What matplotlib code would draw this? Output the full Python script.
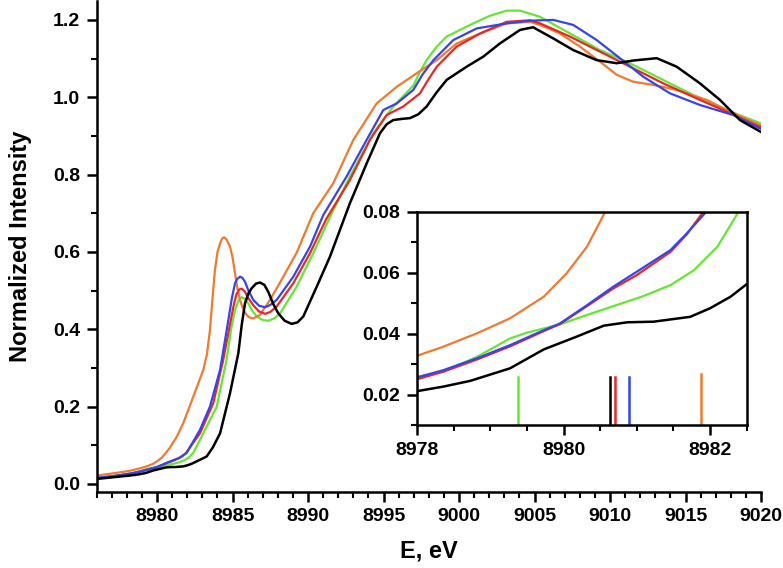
import matplotlib
matplotlib.use("Agg")
import matplotlib.pyplot as plt
from matplotlib.ticker import MultipleLocator

plt.rcParams['font.family'] = ['Liberation Sans', 'DejaVu Sans']
plt.rcParams['font.weight'] = 'bold'

# energy (eV) / normalized intensity
e_orange = [8976.0, 8977.0, 8978.0, 8978.36, 8978.82, 8979.27, 8979.73, 8980.04, 8980.32, 8980.57,
            8980.85, 8981.3, 8981.73, 8982.4, 8983.06, 8983.3, 8983.5, 8983.65, 8983.83, 8984.0,
            8984.17, 8984.3, 8984.43, 8984.6, 8984.83, 8985.0, 8985.16, 8985.3, 8985.49, 8985.7,
            8985.93, 8986.1, 8986.37, 8986.81, 8987.48, 8988.36, 8989.24, 8990.34, 8991.67, 8993.0,
            8994.54, 8995.87, 8997.19, 8998.52, 8999.84, 9001.4, 9003.15, 9004.7, 9005.36, 9006.68,
            9008.0, 9009.33, 9010.44, 9011.54, 9012.86, 9014.41, 9016.4, 9018.16, 9020.0]
i_orange = [0.022, 0.027, 0.0327, 0.0357, 0.0401, 0.045, 0.0521, 0.0597, 0.0685, 0.080,
            0.094, 0.122, 0.157, 0.226, 0.295, 0.335, 0.398, 0.47, 0.553, 0.60,
            0.622, 0.634, 0.638, 0.632, 0.614, 0.585, 0.545, 0.51, 0.476, 0.452,
            0.437, 0.431, 0.428, 0.437, 0.476, 0.536, 0.598, 0.700, 0.778, 0.890,
            0.984, 1.027, 1.062, 1.096, 1.139, 1.165, 1.191, 1.195, 1.187, 1.165,
            1.131, 1.092, 1.058, 1.040, 1.032, 1.019, 0.993, 0.959, 0.927]

e_blue = [8976.0, 8977.0, 8978.0, 8978.36, 8978.82, 8979.27, 8979.73, 8979.95, 8980.32, 8980.68,
          8981.0, 8981.46, 8981.68, 8981.95, 8982.84, 8983.5, 8984.17, 8984.72, 8984.95, 8985.16,
          8985.3, 8985.49, 8985.65, 8985.82, 8986.05, 8986.37, 8986.75, 8987.15, 8987.5, 8987.92,
          8989.02, 8990.13, 8991.0, 8992.55, 8993.88, 8994.98, 8995.87, 8996.97, 8997.6, 8998.3,
          8999.62, 9001.17, 9003.15, 9004.7, 9006.24, 9007.56, 9009.11, 9010.65, 9012.2, 9013.97,
          9015.95, 9018.16, 9020.0]
i_blue = [0.016, 0.020, 0.0256, 0.028, 0.0319, 0.0362, 0.0411, 0.0433, 0.0493, 0.0554,
          0.0603, 0.0674, 0.0728, 0.080, 0.140, 0.200, 0.295, 0.424, 0.48, 0.519,
          0.53, 0.536, 0.533, 0.523, 0.50, 0.476, 0.461, 0.457, 0.463, 0.476,
          0.536, 0.614, 0.695, 0.795, 0.890, 0.967, 0.984, 1.019, 1.06, 1.096,
          1.148, 1.178, 1.191, 1.198, 1.200, 1.187, 1.148, 1.101, 1.053, 1.010,
          0.980, 0.954, 0.918]

e_red = [8976.0, 8977.0, 8978.0, 8978.36, 8978.82, 8979.27, 8979.73, 8979.95, 8980.32, 8980.68,
         8981.0, 8981.46, 8981.68, 8981.91, 8982.84, 8983.72, 8984.38, 8985.05, 8985.25, 8985.44,
         8985.62, 8985.82, 8986.05, 8986.37, 8986.75, 8987.15, 8987.5, 8987.92, 8989.02, 8990.13,
         8991.2, 8992.77, 8994.1, 8995.2, 8996.3, 8997.41, 8997.95, 8998.52, 8999.84, 9001.4,
         9003.15, 9004.7, 9005.36, 9007.34, 9009.33, 9011.32, 9013.52, 9015.73, 9017.94, 9020.0]
i_red = [0.015, 0.019, 0.025, 0.0275, 0.0315, 0.0358, 0.0408, 0.0431, 0.049, 0.0548,
         0.0592, 0.0668, 0.0725, 0.080, 0.131, 0.209, 0.321, 0.458, 0.49, 0.503,
         0.505, 0.497, 0.48, 0.462, 0.446, 0.440, 0.445, 0.459, 0.519, 0.597,
         0.685, 0.786, 0.890, 0.954, 0.976, 1.010, 1.045, 1.079, 1.131, 1.165,
         1.195, 1.199, 1.191, 1.157, 1.118, 1.079, 1.036, 0.997, 0.959, 0.922]

e_green = [8976.0, 8977.0, 8978.0, 8978.36, 8978.82, 8979.27, 8979.5, 8979.95, 8980.32, 8980.68,
           8981.09, 8981.46, 8981.78, 8982.1, 8982.39, 8982.84, 8983.95, 8984.6, 8984.9, 8985.16,
           8985.4, 8985.6, 8985.8, 8986.04, 8986.3, 8986.6, 8987.0, 8987.36, 8987.75, 8988.14,
           8989.24, 8990.35, 8991.45, 8992.77, 8994.32, 8995.64, 8996.3, 8996.97, 8997.4, 8997.85,
           8998.5, 8999.18, 9000.94, 9002.0, 9003.15, 9004.03, 9005.36, 9007.34, 9009.33, 9011.1,
           9013.3, 9015.5, 9017.7, 9020.0]
i_green = [0.016, 0.020, 0.0258, 0.0275, 0.0324, 0.0384, 0.0403, 0.043, 0.0461, 0.049,
           0.0523, 0.0559, 0.0608, 0.0685, 0.080, 0.114, 0.200, 0.321, 0.40, 0.450,
           0.475, 0.483, 0.479, 0.467, 0.448, 0.433, 0.424, 0.422, 0.428, 0.441,
           0.510, 0.597, 0.690, 0.795, 0.907, 0.976, 1.003, 1.030, 1.065, 1.096,
           1.130, 1.157, 1.191, 1.210, 1.224, 1.224, 1.208, 1.165, 1.122, 1.092,
           1.049, 1.006, 0.967, 0.932]

e_black = [8976.0, 8977.0, 8978.0, 8978.36, 8978.73, 8979.27, 8979.73, 8980.18, 8980.55, 8980.87,
           8981.23, 8981.73, 8982.0, 8982.28, 8982.5, 8983.28, 8983.7, 8984.17, 8984.83, 8985.38,
           8985.6, 8985.82, 8986.05, 8986.26, 8986.55, 8986.81, 8987.1, 8987.36, 8987.7, 8988.03,
           8988.45, 8988.91, 8989.3, 8989.68, 8990.57, 8991.45, 8992.77, 8993.88, 8994.76, 8995.2,
           8995.64, 8996.2, 8996.75, 8997.3, 8997.85, 8998.5, 8999.18, 9000.5, 9001.6, 9002.7,
           9004.03, 9004.9, 9006.24, 9007.56, 9009.11, 9010.44, 9011.54, 9013.09, 9014.41, 9015.95,
           9017.28, 9018.6, 9020.0]
i_black = [0.013, 0.017, 0.0211, 0.0226, 0.0245, 0.0286, 0.0348, 0.039, 0.0426, 0.0437,
           0.0439, 0.0455, 0.0483, 0.0521, 0.0562, 0.071, 0.095, 0.131, 0.235, 0.338,
           0.41, 0.467, 0.493, 0.506, 0.518, 0.521, 0.515, 0.497, 0.465, 0.441,
           0.422, 0.414, 0.418, 0.433, 0.510, 0.588, 0.726, 0.829, 0.907, 0.930,
           0.941, 0.944, 0.946, 0.956, 0.976, 1.012, 1.045, 1.079, 1.105, 1.139,
           1.174, 1.181, 1.152, 1.122, 1.096, 1.088, 1.095, 1.101, 1.079, 1.036,
           0.993, 0.941, 0.910]

# edge positions marked in the inset
edge_e = [8979.38, 8980.63, 8980.70, 8980.90, 8981.88]
edge_top = [0.0256, 0.0256, 0.0256, 0.0256, 0.0267]

c_orange = '#F07A30'
c_blue = '#3545E8'
c_red = '#E82828'
c_green = '#66E633'
c_black = '#000000'

curves = [(e_green, i_green, c_green), (e_orange, i_orange, c_orange),
          (e_red, i_red, c_red), (e_blue, i_blue, c_blue), (e_black, i_black, c_black)]
edge_colors = [c_green, c_black, c_red, c_blue, c_orange]

fig = plt.figure(figsize=(7.83, 5.68), dpi=100)

ax = fig.add_axes([0.1235, 0.1343, 0.8485, 0.8647])
for e, i, c in curves:
    ax.plot(e, i, color=c, lw=1.6 if c != c_black else 1.8, solid_joinstyle='round')
ax.set_xlim(8976, 9020)
ax.set_ylim(-0.02, 1.25)
ax.xaxis.set_major_locator(MultipleLocator(5))
ax.xaxis.set_minor_locator(MultipleLocator(1))
ax.yaxis.set_major_locator(MultipleLocator(0.2))
ax.yaxis.set_minor_locator(MultipleLocator(0.1))
ax.yaxis.set_major_formatter(plt.FormatStrFormatter('%.1f'))
ax.spines['top'].set_visible(False)
ax.spines['right'].set_visible(False)
for s in ['left', 'bottom']:
    ax.spines[s].set_linewidth(1.8)
ax.tick_params(which='major', direction='out', length=7, width=1.8, labelsize=14, pad=5)
ax.tick_params(which='minor', direction='out', length=4, width=1.5)
ax.set_xlabel('E, eV', fontsize=17, fontweight='bold', labelpad=10)
ax.set_ylabel('Normalized Intensity', fontsize=17, fontweight='bold', labelpad=15)

ins = fig.add_axes([0.5326, 0.2518, 0.421, 0.3755])
for e, i, c in curves:
    ins.plot(e, i, color=c, lw=1.6 if c != c_black else 1.8, solid_joinstyle='round')
for x, top, c in zip(edge_e, edge_top, edge_colors):
    ins.plot([x, x], [0.01, top], color=c, lw=1.8)
ins.set_xlim(8978, 8982.5)
ins.set_ylim(0.01, 0.08)
ins.xaxis.set_major_locator(MultipleLocator(2))
ins.xaxis.set_minor_locator(MultipleLocator(0.5))
ins.yaxis.set_major_locator(MultipleLocator(0.02))
ins.yaxis.set_minor_locator(MultipleLocator(0.01))
ins.yaxis.set_major_formatter(plt.FormatStrFormatter('%.2f'))
for s in ins.spines.values():
    s.set_linewidth(1.8)
ins.tick_params(which='major', direction='out', length=7, width=1.8, labelsize=14, pad=5)
ins.tick_params(which='minor', direction='out', length=4, width=1.5)

fig.savefig('out.png', dpi=100)
